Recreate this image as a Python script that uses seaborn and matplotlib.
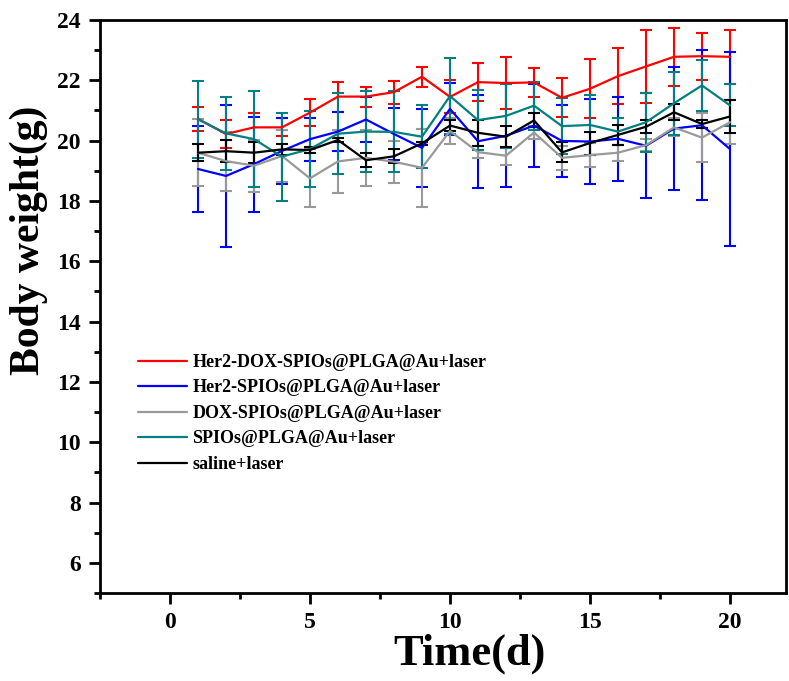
import numpy as np
import pandas as pd
import matplotlib
matplotlib.use('Agg')
import matplotlib.pyplot as plt
import seaborn as sns
from matplotlib.ticker import MultipleLocator

# ── Data ───────────────────────────────────────────────
days = list(range(1, 21))

groups = ['Her2-DOX-SPIOs@PLGA@Au+laser', 'Her2-SPIOs@PLGA@Au+laser',
          'DOX-SPIOs@PLGA@Au+laser', 'SPIOs@PLGA@Au+laser', 'saline+laser']

red = [20.72, 20.22, 20.44, 20.44, 20.93, 21.46, 21.46, 21.61, 22.12, 21.45,
       21.94, 21.91, 21.93, 21.42, 21.72, 22.14, 22.46, 22.78, 22.80, 22.78]
red_err = [0.39, 0.47, 0.46, 0.30, 0.44, 0.50, 0.33, 0.38, 0.33, 0.55,
           0.62, 0.85, 0.47, 0.65, 0.98, 0.92, 1.20, 0.97, 0.78, 0.90]
blue = [19.06, 18.83, 19.22, 19.66, 20.05, 20.30, 20.70, 20.22, 19.76, 21.05,
        19.98, 20.16, 20.50, 19.99, 19.97, 20.06, 19.83, 20.40, 20.51, 19.72]
blue_err = [1.44, 2.36, 1.57, 1.10, 0.71, 0.66, 0.75, 0.85, 1.30, 0.86,
            1.54, 1.71, 1.38, 1.18, 1.40, 1.39, 1.74, 2.03, 2.48, 3.23]
gray = [19.60, 19.32, 19.17, 19.49, 18.75, 19.31, 19.43, 19.30, 19.10, 20.32,
        19.62, 19.50, 20.27, 19.43, 19.52, 19.60, 19.85, 20.44, 20.10, 20.61]
gray_err = [1.12, 0.98, 0.86, 0.85, 0.96, 1.04, 0.92, 0.70, 1.29, 0.43,
            0.20, 0.30, 0.20, 0.40, 0.40, 0.27, 0.20, 0.30, 0.80, 0.73]
teal = [20.71, 20.24, 20.05, 19.47, 19.72, 20.23, 20.30, 20.29, 20.13, 21.48,
        20.68, 20.82, 21.16, 20.48, 20.52, 20.30, 20.61, 21.24, 21.83, 21.17]
teal_err = [1.27, 1.22, 1.60, 1.46, 1.27, 1.34, 1.35, 1.34, 1.05, 1.25,
            1.00, 1.05, 0.80, 0.92, 1.00, 0.45, 0.98, 1.05, 0.84, 0.70]
black = [19.60, 19.65, 19.60, 19.71, 19.69, 20.02, 19.35, 19.48, 19.91, 20.50,
         20.26, 20.13, 20.67, 19.61, 19.92, 20.19, 20.46, 20.94, 20.55, 20.80]
black_err = [0.28, 0.37, 0.35, 0.17, 0.10, 0.07, 0.23, 0.23, 0.05, 0.18,
             0.44, 0.35, 0.23, 0.33, 0.38, 0.33, 0.22, 0.27, 0.12, 0.54]

colors = ['#ff0000', '#0000ff', '#999999', '#008080', '#000000']
means = [red, blue, gray, teal, black]
errs = [red_err, blue_err, gray_err, teal_err, black_err]

df = pd.DataFrame({
    'day': days * len(groups),
    'weight': sum(means, []),
    'err': sum(errs, []),
    'group': sum([[g] * len(days) for g in groups], []),
})

# ── Style ──────────────────────────────────────────────
sns.set_theme(style='ticks')
plt.rcParams['font.family'] = ['Liberation Serif', 'DejaVu Serif']
plt.rcParams['font.weight'] = 'bold'
for k in ['text.color', 'axes.labelcolor', 'xtick.color', 'ytick.color',
          'axes.edgecolor']:
    plt.rcParams[k] = 'black'

fig = plt.figure(figsize=(7.89, 6.81), dpi=100)
ax = fig.add_axes([100 / 789, 88 / 681, 686 / 789, 573 / 681])

for g, c in zip(groups, colors):
    sub = df[df['group'] == g]
    ax.errorbar(sub['day'], sub['weight'], yerr=sub['err'], fmt='none',
                ecolor=c, elinewidth=1.5, capsize=4.5, capthick=1.5)

sns.lineplot(data=df, x='day', y='weight', hue='group', hue_order=groups,
             palette=colors, linewidth=1.6, ax=ax, estimator=None,
             errorbar=None)

ax.set_xlim(-2.5, 22.0)
ax.set_ylim(5, 24)
ax.xaxis.set_major_locator(MultipleLocator(5))
ax.xaxis.set_minor_locator(MultipleLocator(2.5))
ax.yaxis.set_major_locator(MultipleLocator(2))
ax.yaxis.set_minor_locator(MultipleLocator(1))
ax.set_yticks(range(6, 25, 2))

for s in ax.spines.values():
    s.set_linewidth(2)
ax.tick_params(which='major', direction='out', length=8, width=2,
               labelsize=17, pad=6)
ax.tick_params(which='minor', direction='out', length=4, width=2)
for lab in ax.get_xticklabels() + ax.get_yticklabels():
    lab.set_fontweight('bold')

ax.set_xlabel('Time(d)', fontsize=32, fontweight='bold')
ax.set_ylabel('Body weight(g)', fontsize=30, fontweight='bold')
ax.xaxis.set_label_coords(0.539, -0.07)
ax.yaxis.set_label_coords(-0.076, 0.616)

leg = ax.legend(loc='upper left', bbox_to_anchor=(138 / 789, 1 - 354 / 681),
                bbox_transform=fig.transFigure, frameon=False,
                prop={'family': 'Liberation Serif', 'weight': 'bold', 'size': 13},
                handlelength=2.7, handletextpad=0.3, labelspacing=0.47,
                borderpad=0, borderaxespad=0)
for line in leg.get_lines():
    line.set_linewidth(1.6)

fig.savefig('out.png', dpi=100)
